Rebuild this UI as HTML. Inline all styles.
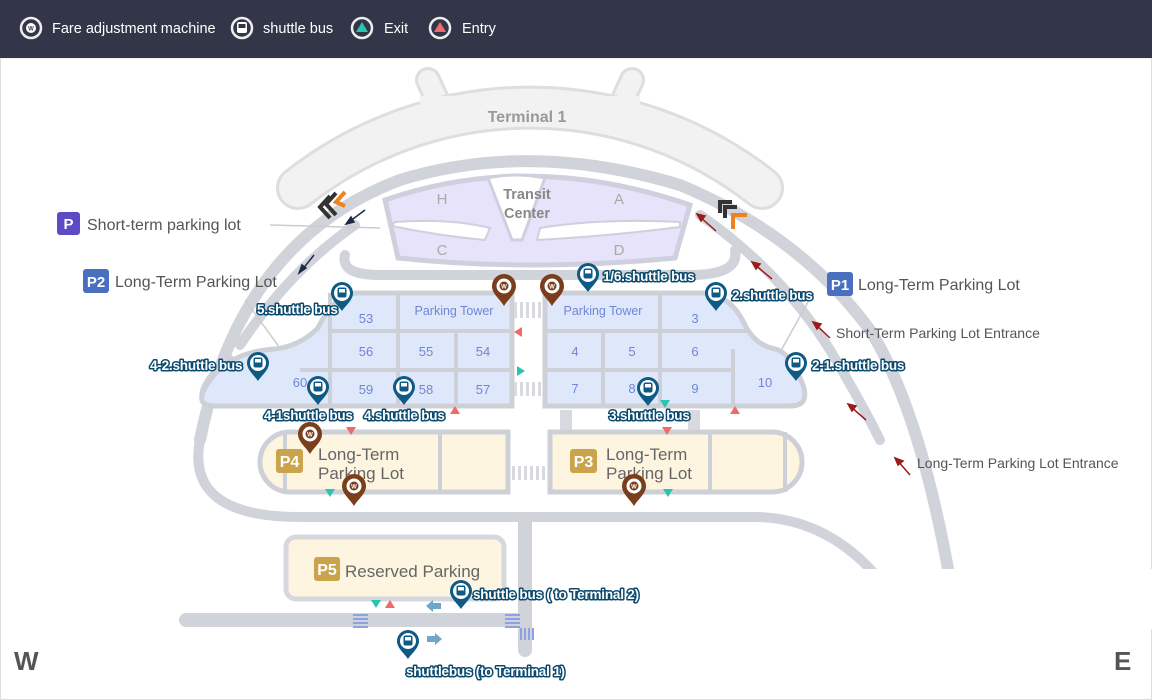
<!DOCTYPE html>
<html><head><meta charset="utf-8"><style>
html,body{margin:0;padding:0;background:#fff;}
svg{display:block;font-family:"Liberation Sans",sans-serif;}
.bl{font-family:"Liberation Sans Narrow","Liberation Sans",sans-serif;font-weight:bold;font-size:13.5px;fill:#fff;stroke:#0b4a6e;stroke-width:3;paint-order:stroke;stroke-linejoin:round;letter-spacing:-0.2px}
.num{fill:#6f86d6;font-size:13px;text-anchor:middle}
.lbl{fill:#555;font-size:16px}
.sm{fill:#555;font-size:14px}
.rd{fill:none;stroke:#d0d3da;stroke-linecap:round}
</style></head><body>
<svg width="1152" height="700" viewBox="0 0 1152 700" xmlns="http://www.w3.org/2000/svg">
<defs>
<g id="bus"><path d="M0,18 C-4,12 -11,7 -11,0 A11,11 0 1 1 11,0 C11,7 4,12 0,18Z" fill="#0e5a85"/><circle r="8" fill="#fff"/><rect x="-4.5" y="-5.5" width="9" height="10" rx="2" fill="#0e5a85"/><rect x="-3" y="-4" width="6" height="3.5" fill="#fff"/></g>
<g id="w"><path d="M0,20 C-4,13 -12,8 -12,0 A12,12 0 1 1 12,0 C12,8 4,13 0,20Z" fill="#7a3e1c"/><circle r="7.5" fill="#fff"/><circle r="4.5" fill="#7a3e1c"/><text y="2.5" font-size="6" fill="#fff" text-anchor="middle" font-weight="bold">W</text></g>
</defs>
<rect width="1152" height="700" fill="#fff"/>
<rect x="0.5" y="58" width="1151" height="641.5" fill="none" stroke="#ddd"/>
<!-- header -->
<rect width="1152" height="58" fill="#333649"/>
<g fill="none" stroke="#eee" stroke-width="2.5">
<circle cx="31" cy="28" r="10"/><circle cx="242" cy="28" r="10"/><circle cx="362" cy="28" r="10"/><circle cx="440" cy="28" r="10"/></g>
<circle cx="31" cy="28" r="5" fill="#fff"/><text x="31" y="30.5" font-size="6" text-anchor="middle" fill="#333649" font-weight="bold">W</text>
<rect x="237" y="22" width="10" height="11" rx="2" fill="#fff"/><rect x="238.5" y="24" width="7" height="4" fill="#333649"/>
<polygon points="362,22 368,32 356,32" fill="#2cc3b0"/><polygon points="440,22 446,32 434,32" fill="#f06a6a"/>
<g fill="#fff" font-size="14.5"><text x="52" y="33">Fare adjustment machine</text><text x="263" y="33">shuttle bus</text><text x="384" y="33">Exit</text><text x="462" y="33">Entry</text></g>

<!-- terminal 1 -->
<path d="M438,102 L428,80" stroke="#dedede" stroke-width="26" stroke-linecap="round"/>
<path d="M438,102 L428,80" stroke="#f2f2f2" stroke-width="20" stroke-linecap="round"/>
<path d="M622,102 L632,80" stroke="#dedede" stroke-width="26" stroke-linecap="round"/>
<path d="M622,102 L632,80" stroke="#f2f2f2" stroke-width="20" stroke-linecap="round"/>
<path d="M298,188 A375,375 0 0 1 762,188" fill="none" stroke="#dedede" stroke-width="44" stroke-linecap="round"/>
<path d="M298,188 A375,375 0 0 1 762,188" fill="none" stroke="#f2f2f2" stroke-width="38" stroke-linecap="round"/>
<rect x="420" y="96" width="220" height="12" fill="#f2f2f2"/>
<text x="527" y="122" text-anchor="middle" fill="#999" font-size="16" font-weight="bold">Terminal 1</text>

<!-- roads -->
<path class="rd" stroke-width="12" d="M200,440 Q240,240 400,180 Q530,140 680,185 Q800,235 870,330 Q920,410 950,580"/>
<path class="rd" stroke-width="10" d="M200,440 Q185,517 300,517 L760,517 Q830,520 880,580"/>
<path class="rd" stroke-width="10" d="M355,225 Q290,270 240,345"/>
<path class="rd" stroke-width="10" d="M700,215 Q780,270 830,350 Q860,400 880,440"/>
<path class="rd" stroke-width="10" d="M345,255 Q340,275 380,275 L690,275 Q740,275 735,250"/>
<path class="rd" stroke-width="14" d="M525,520 L525,650"/>
<path class="rd" stroke-width="14" d="M186,620 L520,620"/>
<path class="rd" stroke-width="10" d="M230,360 Q200,385 205,400"/>
<rect x="840" y="569" width="312" height="60" fill="#fff"/>
<line x1="270" y1="225" x2="380" y2="228" stroke="#ccc" stroke-width="1.5"/>
<line x1="245" y1="300" x2="285" y2="355" stroke="#ccc" stroke-width="1.5"/>
<line x1="808" y1="302" x2="778" y2="356" stroke="#ccc" stroke-width="1.5"/>

<!-- transit center -->
<path d="M385,200 Q530,150 690,205 L675,258 Q530,272 398,258Z" fill="#e6e3fb" stroke="#cfd0dd" stroke-width="5"/>
<path d="M488,178 Q515,172 545,178 L522,240 L512,240Z" fill="#fff" stroke="#cfd0dd" stroke-width="3"/>
<path d="M395,222 Q450,218 490,228 L485,240 Q440,236 392,226Z" fill="#fff" stroke="#cfd0dd" stroke-width="2"/>
<path d="M540,228 Q600,218 680,222 L680,227 Q610,236 537,240Z" fill="#fff" stroke="#cfd0dd" stroke-width="2"/>
<g fill="#aaa" font-size="15" text-anchor="middle"><text x="442" y="204">H</text><text x="619" y="204">A</text><text x="442" y="255">C</text><text x="619" y="255">D</text></g>
<text x="527" y="199" text-anchor="middle" fill="#888" font-size="14.5" font-weight="bold">Transit</text>
<text x="527" y="218" text-anchor="middle" fill="#888" font-size="14.5" font-weight="bold">Center</text>

<!-- parking blocks -->
<path d="M358,293 L512,293 L512,406 L215,406 Q195,406 205,388 Q225,352 275,349 Q300,346 318,328 Q335,293 358,293Z" fill="#dfe8fb" stroke="#cdd0d6" stroke-width="5"/>
<g stroke="#cdd0d6" stroke-width="4"><line x1="330" y1="331" x2="512" y2="331"/><line x1="300" y1="370" x2="512" y2="370"/><line x1="330" y1="293" x2="330" y2="406"/><line x1="398" y1="293" x2="398" y2="406"/><line x1="456" y1="331" x2="456" y2="406"/></g>
<path d="M545,293 L700,293 Q730,293 745,325 Q755,345 775,349 Q790,352 803,385 Q810,406 790,406 L545,406Z" fill="#dfe8fb" stroke="#cdd0d6" stroke-width="5"/>
<g stroke="#cdd0d6" stroke-width="4"><line x1="545" y1="331" x2="750" y2="331"/><line x1="545" y1="370" x2="735" y2="370"/><line x1="603" y1="331" x2="603" y2="406"/><line x1="660" y1="293" x2="660" y2="406"/><line x1="733" y1="349" x2="733" y2="406"/></g>
<g class="num"><text x="366" y="323">53</text><text x="366" y="356">56</text><text x="426" y="356">55</text><text x="483" y="356">54</text><text x="300" y="387">60</text><text x="366" y="394">59</text><text x="426" y="394">58</text><text x="483" y="394">57</text>
<text x="454" y="315" font-size="12.5">Parking Tower</text><text x="603" y="315" font-size="12.5">Parking Tower</text>
<text x="695" y="323">3</text><text x="575" y="356">4</text><text x="632" y="356">5</text><text x="695" y="356">6</text><text x="575" y="393">7</text><text x="632" y="393">8</text><text x="695" y="393">9</text><text x="765" y="387">10</text></g>
<!-- crosswalks -->
<g fill="#d8dae0"><rect x="514" y="302" width="3" height="16"/><rect x="520" y="302" width="3" height="16"/><rect x="526" y="302" width="3" height="16"/><rect x="532" y="302" width="3" height="16"/><rect x="538" y="302" width="3" height="16"/>
<rect x="514" y="382" width="3" height="14"/><rect x="520" y="382" width="3" height="14"/><rect x="526" y="382" width="3" height="14"/><rect x="532" y="382" width="3" height="14"/><rect x="538" y="382" width="3" height="14"/>
<rect x="512" y="466" width="3" height="14"/><rect x="518" y="466" width="3" height="14"/><rect x="524" y="466" width="3" height="14"/><rect x="530" y="466" width="3" height="14"/><rect x="536" y="466" width="3" height="14"/><rect x="542" y="466" width="3" height="14"/>
<rect x="560" y="410" width="12" height="20"/><rect x="688" y="410" width="12" height="20"/></g>

<!-- P4 P3 -->
<path d="M290,432 L508,432 L508,492 L290,492 A30,30 0 0 1 290,432Z" fill="#fdf5e0" stroke="#cdd0d6" stroke-width="5"/>
<g stroke="#cdd0d6" stroke-width="4"><line x1="285" y1="432" x2="285" y2="492"/><line x1="440" y1="432" x2="440" y2="492"/></g>
<path d="M550,432 L772,432 A30,30 0 0 1 772,492 L550,492Z" fill="#fdf5e0" stroke="#cdd0d6" stroke-width="5"/>
<g stroke="#cdd0d6" stroke-width="4"><line x1="710" y1="432" x2="710" y2="492"/><line x1="785" y1="432" x2="785" y2="492"/></g>
<rect x="276" y="449" width="27" height="24" rx="3" fill="#c9a44a"/><text x="289.5" y="467" fill="#fff" font-size="16" text-anchor="middle" font-weight="bold">P4</text>
<text x="318" y="460" fill="#666" font-size="17">Long-Term</text><text x="318" y="479" fill="#666" font-size="17">Parking Lot</text>
<rect x="570" y="449" width="27" height="24" rx="3" fill="#c9a44a"/><text x="583.5" y="467" fill="#fff" font-size="16" text-anchor="middle" font-weight="bold">P3</text>
<text x="606" y="460" fill="#666" font-size="17">Long-Term</text><text x="606" y="479" fill="#666" font-size="17">Parking Lot</text>

<!-- P5 -->
<rect x="286" y="537" width="218" height="62" rx="10" fill="#fdf5e0" stroke="#d6d8de" stroke-width="5"/>
<rect x="314" y="557" width="26" height="24" rx="3" fill="#c9a44a"/><text x="327" y="575" fill="#fff" font-size="16" text-anchor="middle" font-weight="bold">P5</text>
<text x="345" y="577" fill="#666" font-size="17">Reserved Parking</text>
<g fill="#8da2e0"><rect x="353" y="614" width="15" height="2"/><rect x="353" y="618" width="15" height="2"/><rect x="353" y="622" width="15" height="2"/><rect x="353" y="626" width="15" height="2"/>
<rect x="505" y="614" width="15" height="2"/><rect x="505" y="618" width="15" height="2"/><rect x="505" y="622" width="15" height="2"/><rect x="505" y="626" width="15" height="2"/>
<rect x="520" y="628" width="2" height="12"/><rect x="524" y="628" width="2" height="12"/><rect x="528" y="628" width="2" height="12"/><rect x="532" y="628" width="2" height="12"/></g>
<path d="M426,606 L433,600 L433,603 L441,603 L441,609 L433,609 L433,612Z" fill="#6fa6cc"/>
<path d="M442,639 L435,633 L435,636 L427,636 L427,642 L435,642 L435,645Z" fill="#6fa6cc"/>

<!-- triangles -->
<g fill="#f06a6a"><polygon points="455,406 460,414 450,414"/><polygon points="735,406 740,414 730,414"/><polygon points="390,600 395,608 385,608"/>
<polygon points="351,435 356,427 346,427"/><polygon points="667,435 672,427 662,427"/><polygon points="514,332 522,327 522,337"/></g>
<g fill="#2cc3b0"><polygon points="525,371 517,366 517,376"/><polygon points="665,408 670,400 660,400"/><polygon points="330,497 335,489 325,489"/><polygon points="668,497 673,489 663,489"/><polygon points="376,608 381,600 371,600"/></g>

<!-- direction arrows -->
<g stroke="#1f2a44" stroke-width="1.5" fill="#1f2a44"><line x1="365" y1="210" x2="349" y2="222"/><polygon points="346,224 351,217 354,222"/><line x1="314" y1="255" x2="302" y2="270"/><polygon points="299,273 302,265 306,268"/></g>
<g stroke="#9b1b1b" stroke-width="1.5" fill="#9b1b1b"><line x1="716" y1="231" x2="699" y2="216"/><polygon points="697,214 705,216 701,221"/>
<line x1="772" y1="279" x2="754" y2="264"/><polygon points="752,262 760,264 756,269"/>
<line x1="830" y1="338" x2="815" y2="324"/><polygon points="813,322 821,324 817,329"/>
<line x1="866" y1="420" x2="850" y2="406"/><polygon points="848,404 856,406 852,411"/>
<line x1="910" y1="475" x2="897" y2="460"/><polygon points="895,458 903,461 898,465"/></g>
<!-- chevrons -->
<g fill="none" stroke-width="4"><path d="M330,196 L320,207 L330,218" stroke="#333"/><path d="M336,193 L326,204 L336,215" stroke="#333"/><path d="M345,192 L336,202 L345,206" stroke="#f08020"/>
<path d="M720,213 L720,202 L732,202" stroke="#333"/><path d="M725,218 L725,207 L737,207" stroke="#333"/><path d="M733,229 L733,215 L747,215" stroke="#f08020"/></g>

<!-- pins -->
<use href="#bus" x="342" y="293"/><use href="#bus" x="588" y="274"/><use href="#bus" x="716" y="293"/><use href="#bus" x="796" y="363"/><use href="#bus" x="258" y="363"/><use href="#bus" x="318" y="387"/><use href="#bus" x="404" y="387"/><use href="#bus" x="648" y="388"/><use href="#bus" x="461" y="591"/><use href="#bus" x="408" y="641"/>
<use href="#w" x="504" y="286"/><use href="#w" x="552" y="286"/><use href="#w" x="310" y="434"/><use href="#w" x="354" y="486"/><use href="#w" x="634" y="486"/>

<g class="bl"><text x="603" y="281">1/6.shuttle bus</text><text x="732" y="300">2.shuttle bus</text><text x="812" y="370">2-1.shuttle bus</text><text x="257" y="314">5.shuttle bus</text><text x="150" y="370">4-2.shuttle bus</text><text x="264" y="420">4-1shuttle bus</text><text x="364" y="420">4.shuttle bus</text><text x="609" y="420">3.shuttle bus</text><text x="473" y="599">shuttle bus ( to Terminal 2)</text><text x="406" y="676">shuttlebus (to Terminal 1)</text></g>

<!-- labels -->
<rect x="57" y="212" width="23" height="23" rx="3" fill="#5b4bc4"/><text x="68.5" y="229" fill="#fff" font-size="15" text-anchor="middle" font-weight="bold">P</text>
<text x="87" y="230" class="lbl">Short-term parking lot</text>
<rect x="83" y="269" width="26" height="24" rx="3" fill="#4a6fc0"/><text x="96" y="287" fill="#fff" font-size="15" text-anchor="middle" font-weight="bold">P2</text>
<text x="115" y="287" class="lbl">Long-Term Parking Lot</text>
<rect x="827" y="272" width="26" height="24" rx="3" fill="#4a6fc0"/><text x="840" y="290" fill="#fff" font-size="15" text-anchor="middle" font-weight="bold">P1</text>
<text x="858" y="290" class="lbl">Long-Term Parking Lot</text>
<text x="836" y="338" class="sm">Short-Term Parking Lot Entrance</text>
<text x="917" y="468" class="sm">Long-Term Parking Lot Entrance</text>
<text x="14" y="670" fill="#555" font-size="26" font-weight="bold">W</text>
<text x="1114" y="670" fill="#555" font-size="26" font-weight="bold">E</text>
</svg>
</body></html>
